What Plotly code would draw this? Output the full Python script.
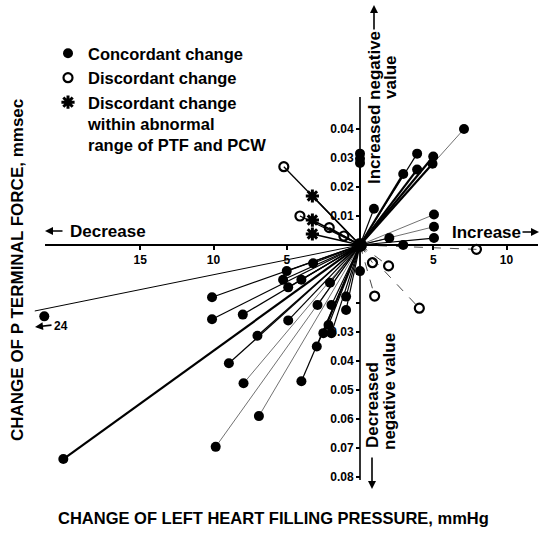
import plotly.graph_objects as go

# ---------------- data ----------------
# x: change of left heart filling pressure, mmHg (negative = decrease)
# y: change of P terminal force, mm*sec (positive = increased negative value)
concordant_x = [7.1, 3.9, 5.0, 4.95, 3.9, 2.95, 0.95, 5.05, 5.05, 5.05, 2.0, 2.95, 0.0, 0.0, 0.0,
                0.0, -3.2, -5.0, -5.25, -4.0, -4.9, -2.05, -0.95, -2.9, -1.95, -0.95, -4.9, -2.15,
                -2.5, -1.95, -2.95, -4.0, -10.1, -10.1, -8.0, -7.0, -8.95, -7.95, -6.9, -9.85, -20.25]
concordant_y = [0.040, 0.0315, 0.0305, 0.028, 0.026, 0.0245, 0.0125, 0.0105, 0.0063, 0.0024, 0.0024, 0.0,
                0.0315, 0.0297, 0.0283,
                -0.009, -0.0063, -0.009, -0.012, -0.012, -0.0146, -0.013, -0.0178, -0.0207, -0.0207, -0.0224,
                -0.026, -0.0276,
                -0.0304, -0.0304, -0.035, -0.047, -0.018, -0.0256, -0.024, -0.0313, -0.0408, -0.0477, -0.059,
                -0.0696, -0.0738]

# one concordant case off the drawn scale (labelled "24")
offscale_x = [-24.0]
offscale_y = [-0.0246]
offscale_label = "24"

discordant_x = [-5.2, -4.1, -2.1, -1.1, 7.95, 0.85, 1.95, 1.0, 4.05]
discordant_y = [0.027, 0.010, 0.006, 0.0031, -0.0015, -0.0061, -0.0072, -0.0176, -0.0218]

abnormal_x = [-3.25, -3.25, -3.25]
abnormal_y = [0.0169, 0.0086, 0.0038]

x_tickvals = [-15, -10, -5, 5, 10]
x_ticktext = ["15", "10", "5", "5", "10"]
y_tickvals = [0.04, 0.03, 0.02, 0.01, -0.01, -0.02, -0.03, -0.04, -0.05, -0.06, -0.07, -0.08]
y_ticktext = ["0.04", "0.03", "0.02", "0.01", "", "", "0.03", "0.04", "0.05", "0.06", "0.07", "0.08"]

ORIGIN = (0.0, 0.0)

# ---------------- styling ----------------
W, H = 541, 537
FONT = "Liberation Sans, Arial, Helvetica, sans-serif"
X0_PX, Y0_PX = 360.0, 245.0          # where the two axes cross (pixels)
PX_PER_X = 14.65                      # pixels per mmHg
PX_PER_Y = 2900.0                     # pixels per mm*sec

x_range = [(0 - X0_PX) / PX_PER_X, (W - X0_PX) / PX_PER_X]
y_range = [-(H - Y0_PX) / PX_PER_Y, Y0_PX / PX_PER_Y]
X_AXIS_EXTENT = (-21.5, 12.15)
Y_AXIS_EXTENT = (-0.081, 0.051)
X_BREAK = -22.2                       # where the off-scale line is cut
X_BREAK_MARK = -21.55                 # where the off-scale point is drawn

THICK_C = {2, 3, 4, 5, 40}
THIN_C = {0, 7, 8, 37, 38, 39}
DASHED_D = {4, 5, 6, 7, 8}


def segs(xs, ys, idx):
    sx, sy = [], []
    for i in idx:
        sx += [ORIGIN[0], xs[i], None]
        sy += [ORIGIN[1], ys[i], None]
    return sx, sy


fig = go.Figure()


def add_lines(xs, ys, idx, width, dash="solid", color="black"):
    sx, sy = segs(xs, ys, idx)
    if sx:
        fig.add_trace(go.Scatter(x=sx, y=sy, mode="lines", showlegend=False, hoverinfo="skip",
                                 line=dict(color=color, width=width, dash=dash)))


nc = len(concordant_x)
add_lines(concordant_x, concordant_y, [i for i in range(nc) if i in THIN_C], 0.7, color="#333")
add_lines(concordant_x, concordant_y, [i for i in range(nc) if i not in THIN_C and i not in THICK_C], 1.2)
add_lines(concordant_x, concordant_y, [i for i in range(nc) if i in THICK_C], 2.2)
nd = len(discordant_x)
add_lines(discordant_x, discordant_y, [i for i in range(nd) if i not in DASHED_D], 1.3)
add_lines(discordant_x, discordant_y, [i for i in range(nd) if i in DASHED_D], 0.9, dash="dash", color="#333")
add_lines(abnormal_x, abnormal_y, range(len(abnormal_x)), 1.6)

# off-scale case: line along its true direction, cut at the axis break
k = X_BREAK / offscale_x[0]
fig.add_trace(go.Scatter(x=[ORIGIN[0], offscale_x[0] * k], y=[ORIGIN[1], offscale_y[0] * k],
                         mode="lines", showlegend=False, hoverinfo="skip",
                         line=dict(color="black", width=1.0)))

# hub where all vectors start
fig.add_trace(go.Scatter(x=[ORIGIN[0]], y=[ORIGIN[1]], mode="markers", showlegend=False, hoverinfo="skip",
                         marker=dict(color="black", size=14)))

# axis lines
fig.add_shape(type="line", x0=X_AXIS_EXTENT[0], x1=X_AXIS_EXTENT[1], y0=0, y1=0,
              line=dict(color="black", width=2))
fig.add_shape(type="line", x0=0, x1=0, y0=Y_AXIS_EXTENT[0], y1=Y_AXIS_EXTENT[1],
              line=dict(color="black", width=1.6))

fig.add_trace(go.Scatter(x=concordant_x, y=concordant_y, mode="markers", name="Concordant change",
                         marker=dict(symbol="circle", size=10, color="black")))
fig.add_trace(go.Scatter(x=discordant_x, y=discordant_y, mode="markers", name="Discordant change",
                         marker=dict(symbol="circle-open", size=9, color="black", line=dict(width=2.2))))
fig.add_trace(go.Scatter(x=abnormal_x, y=abnormal_y, mode="markers",
                         name="Discordant change<br>within abnormal<br>range of PTF and PCW",
                         marker=dict(symbol="asterisk-open", size=11, color="black", line=dict(width=3))))
fig.add_trace(go.Scatter(x=[X_BREAK_MARK], y=offscale_y, mode="markers", showlegend=False,
                         marker=dict(symbol="circle", size=10, color="black")))


def pp(px, py):
    return px / W, 1 - py / H


bold = dict(family=FONT, size=17, color="black", weight="bold")
ann = []


def text(px, py, s, size=17, angle=0, xanchor="center"):
    x, y = pp(px, py)
    ann.append(dict(x=x, y=y, xref="paper", yref="paper", text=s, showarrow=False, textangle=angle,
                    xanchor=xanchor, yanchor="middle", font=dict(bold, size=size)))


def arrow(hx, hy, tx, ty):
    x, y = pp(hx, hy)
    ann.append(dict(x=x, y=y, xref="paper", yref="paper", text="", showarrow=True,
                    ax=tx - hx, ay=ty - hy, arrowhead=2, arrowsize=1, arrowwidth=1.6, arrowcolor="black"))


text(273, 518, "CHANGE OF LEFT HEART FILLING PRESSURE, mmHg", size=16.5)
text(17, 270, "CHANGE OF P TERMINAL FORCE, mmsec", size=17, angle=-90)
text(68, 231, "Decrease", xanchor="left")
arrow(45, 231, 64, 231)
text(450, 232, "Increase", xanchor="left")
arrow(539, 232, 521, 232)
text(374, 108, "Increased negative", angle=-90)
text(391, 78, "value", angle=-90)
arrow(374, 5, 374, 31)
text(372, 405, "Decreased", angle=-90)
text(389, 392, "negative value", angle=-90)
arrow(372, 489, 372, 456)
text(61, 326, offscale_label, size=12)
arrow(35, 327, 53, 325)

fig.update_layout(
    width=W, height=H, autosize=False,
    margin=dict(l=0, r=0, t=0, b=0),
    paper_bgcolor="white", plot_bgcolor="white",
    annotations=ann,
    showlegend=True,
    legend=dict(x=48 / W, y=1 - 36 / H, xanchor="left", yanchor="top", bgcolor="rgba(0,0,0,0)",
                valign="top", tracegroupgap=0,
                font=dict(family=FONT, size=16.5, color="black", weight="bold")),
    xaxis=dict(range=x_range, domain=[0, 1], anchor="free",
               position=(0 - y_range[0]) / (y_range[1] - y_range[0]),
               showgrid=False, zeroline=False, showline=False,
               tickvals=x_tickvals, ticktext=x_ticktext, ticks="outside", ticklen=4, tickwidth=1.5,
               tickcolor="black", tickfont=dict(family=FONT, size=12, color="black", weight="bold")),
    yaxis=dict(range=y_range, domain=[0, 1], anchor="free",
               position=(0 - x_range[0]) / (x_range[1] - x_range[0]),
               showgrid=False, zeroline=False, showline=False,
               tickvals=y_tickvals, ticktext=y_ticktext, ticks="outside", ticklen=4, tickwidth=1.5,
               tickcolor="black", tickfont=dict(family=FONT, size=12, color="black", weight="bold")),
)

fig.write_html("out.html")
